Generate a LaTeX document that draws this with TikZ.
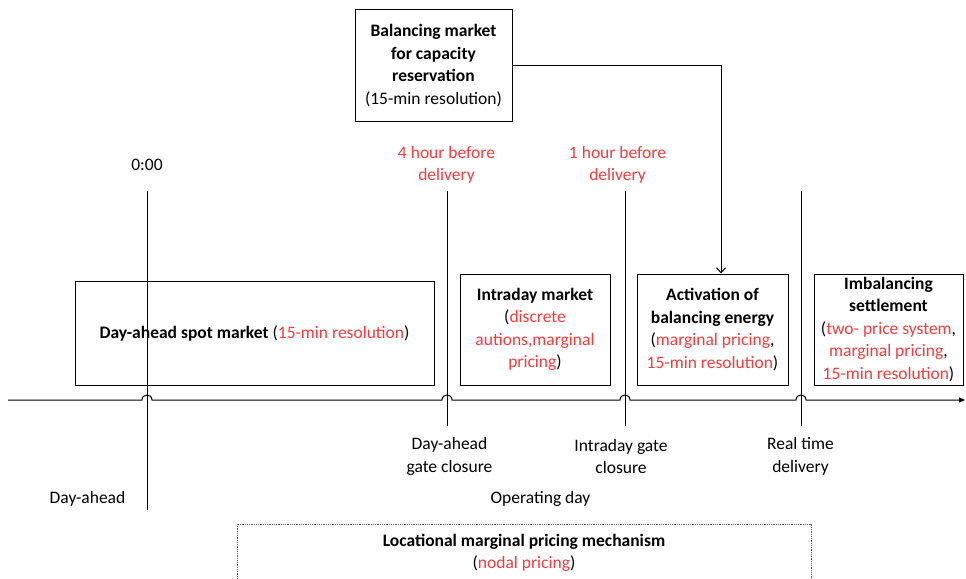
\documentclass[tikz,border=0pt]{standalone}
\usepackage{fontspec}
\setmainfont{Carlito}
\usetikzlibrary{arrows.meta}
\definecolor{txtred}{HTML}{F23C3C}
\newcommand{\rd}[1]{\textcolor{txtred}{#1}}
\begin{document}
\begin{tikzpicture}[x=1pt,y=-1pt,
  every node/.style={font=\fontsize{17.5}{22.5}\selectfont, align=center, inner sep=0pt},
  box/.style={draw, line width=1pt, fill=none},
  tline/.style={line width=1pt},
  lbl/.style={yshift=-1.5pt}]
\useasboundingbox (0,0) rectangle (966,578);

% boxes
\node[box, minimum width=359, minimum height=104] (da) at (254.5,333)
  {\textbf{Day-ahead spot market} (\rd{15-min resolution})};
\node[box, minimum width=150, minimum height=111] (id) at (535,329.5)
  {\textbf{Intraday market}\\(\rd{discrete}\\\rd{autions,marginal}\\\rd{pricing})};
\node[box, minimum width=151, minimum height=111] (act) at (712.5,329.5)
  {\textbf{Activation of}\\\textbf{balancing energy}\\(\rd{marginal pricing},\\\rd{15-min resolution})};
\node[box, minimum width=149, minimum height=111] (imb) at (888.5,329.5)
  {\textbf{Imbalancing}\\\textbf{settlement}\\(\rd{two- price system},\\\rd{marginal pricing},\\\rd{15-min resolution})};
\node[box, minimum width=157, minimum height=111] (bm) at (433.5,65.5)
  {\textbf{Balancing market}\\\textbf{for capacity}\\\textbf{reservation}\\(15-min resolution)};
\node[draw, densely dotted, line width=0.8pt, gray!70!black, text=black, minimum width=574, minimum height=58] (lmp) at (524,553)
  {\textbf{Locational marginal pricing mechanism}\\(\rd{nodal pricing})};

% vertical lines
\coordinate (v1t) at (147,191); \coordinate (v1b) at (147,510);
\coordinate (v2t) at (447,191); \coordinate (v2b) at (447,426);
\coordinate (v3t) at (625,191); \coordinate (v3b) at (625,426);
\coordinate (v4t) at (801,191); \coordinate (v4b) at (801,426);
\foreach \i in {1,2,3,4} \draw[tline] (v\i t) -- (v\i b);

% timeline with hops
\coordinate (ts) at (8,400);
\coordinate (te) at (965,400);
\draw[tline, -{Triangle[length=6pt,width=5pt]}] (ts)
  -- (142,400) .. controls (142,393.3) and (152,393.3) .. (152,400)
  -- (442,400) .. controls (442,393.3) and (452,393.3) .. (452,400)
  -- (620,400) .. controls (620,393.3) and (630,393.3) .. (630,400)
  -- (796,400) .. controls (796,393.3) and (806,393.3) .. (806,400)
  -- (te);

% connector
\draw[tline, -{Straight Barb[length=5pt,width=9pt]}] (bm.east) -| ([xshift=8.5pt]act.north);

% labels
\node[lbl] (t0) at (147,163) {0:00};
\node[lbl, text=txtred] (t4) at (446.5,163.5) {4 hour before\\delivery};
\node[lbl, text=txtred] (t1) at (617.5,163.5) {1 hour before\\delivery};
\node[lbl] (gc1) at (449.5,455) {Day-ahead\\gate closure};
\node[lbl] (gc2) at (621,455) {Intraday gate\\closure};
\node[lbl] (rt) at (800.5,455) {Real time\\delivery};
\node[lbl] (dah) at (87.5,497) {Day-ahead};
\node[lbl] (od) at (540.5,497) {Operating day};
\end{tikzpicture}
\end{document}
